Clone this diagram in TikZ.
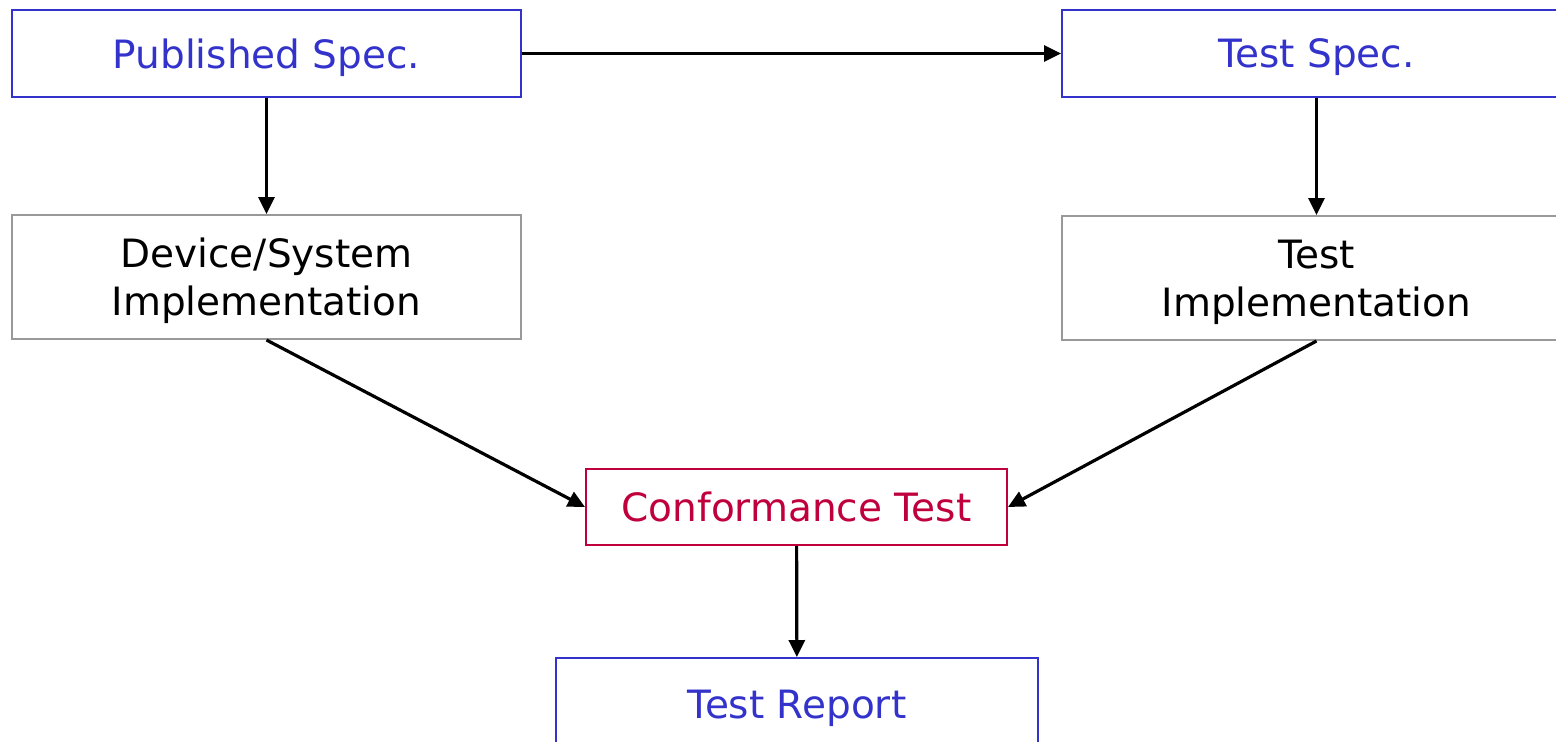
\documentclass[tikz,border=0pt]{standalone}
\usepackage{fontspec}
\setmainfont{DejaVu Sans}
\usepackage{xcolor}
\usetikzlibrary{arrows.meta,positioning}
\definecolor{mblue}{HTML}{3333CC}
\definecolor{mred}{HTML}{C0003C}
\definecolor{mgray}{HTML}{999999}
\tikzstyle{box}=[rectangle, line width=1pt, align=center, font=\fontsize{19.5}{24}\selectfont, inner sep=0pt, text depth=0pt]
\tikzstyle{spec}=[box, draw=mblue, text=mblue, minimum width=254.5pt, minimum height=43.5pt]
\tikzstyle{impl}=[box, draw=mgray, text=black, minimum width=254.5pt, minimum height=62pt]
\tikzstyle{conf}=[box, draw=mred, text=mred, minimum width=210.5pt, minimum height=38pt]
\tikzstyle{l1}=[line width=1.6pt, -{Triangle[length=8.5pt, width=8pt]}]

\begin{document}
\begin{tikzpicture}[x=0.5pt, y=-0.5pt]
    \useasboundingbox (0,0) rectangle (1556,741);
    \clip (0,0) rectangle (1556,741);
    \node (pub) [spec] at (266.5, 53.5) {Published Spec.};
    \node (tspec) [spec] at (1316.5, 53.5) {Test Spec.};
    \node (dev) [impl] at (266.5, 277) {Device/System\\Implementation};
    \node (timpl) [impl] at (1316.5, 278) {Test\\Implementation};
    \node (ct) [conf] at (796.5, 507) {Conformance Test};
    \node (rep) [spec, minimum width=241pt, minimum height=46pt] at (797, 704) {Test Report};
    \draw[l1] (pub) -- (tspec);
    \draw[l1] (pub) -- (dev);
    \draw[l1] (tspec) -- (timpl);
    \draw[l1] (dev.south) -- (ct.west);
    \draw[l1] (timpl.south) -- (ct.east);
    \draw[l1] (ct) -- (rep);
\end{tikzpicture}
\end{document}
